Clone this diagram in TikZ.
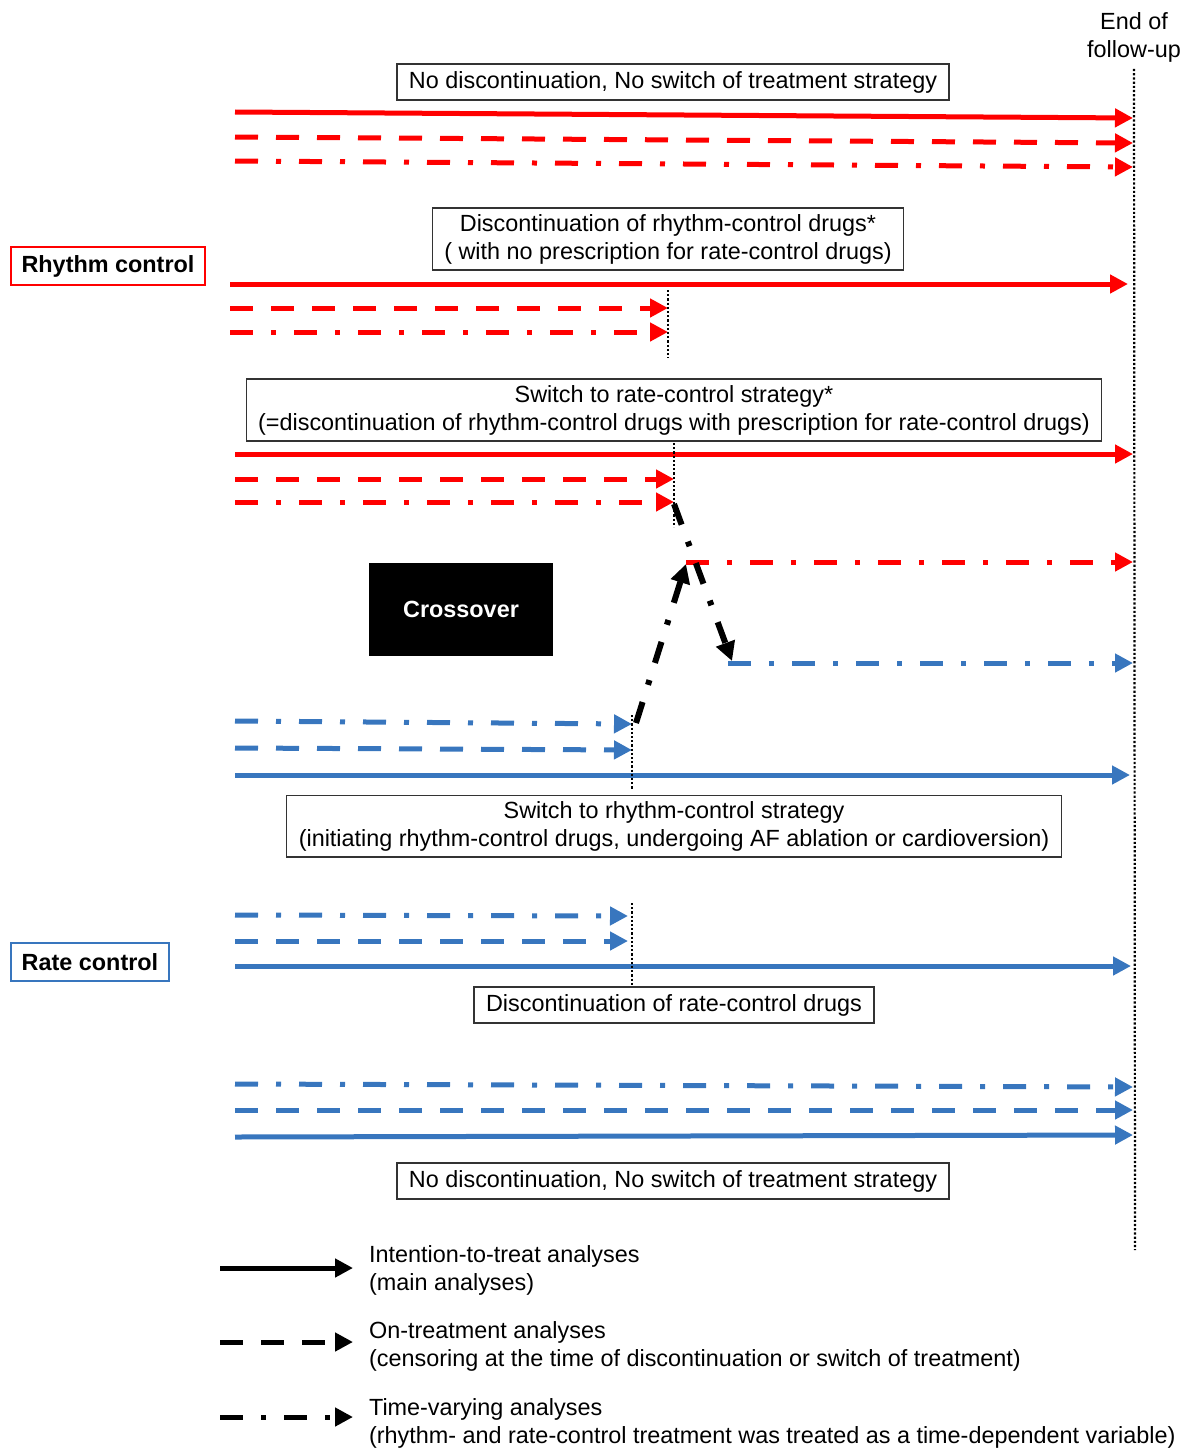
\documentclass[tikz,border=0pt]{standalone}
\usepackage{fontspec}
\setmainfont{Liberation Sans}
\usetikzlibrary{arrows.meta, positioning}
\definecolor{rhythmred}{RGB}{255,0,0}
\definecolor{rateblue}{RGB}{56,118,190}

\begin{document}
\begin{tikzpicture}[x=0.5pt, y=-0.5pt,
  every node/.style={font=\fontsize{11.7}{14}\selectfont},
  note/.style={draw=black!80, line width=0.6pt, align=center, inner xsep=6pt, inner ysep=3pt, minimum height=18pt},
  group/.style={line width=1pt, font=\fontsize{11.7}{14}\selectfont\bfseries, inner xsep=5.5pt, minimum height=19pt},
  track/.style={line width=2.5pt, -{Triangle[length=9pt,width=9pt]}},
  itt/.style={track},
  ontr/.style={track, dash pattern=on 11.5pt off 9pt},
  tvar/.style={track, dash pattern=on 11.5pt off 9pt on 2.5pt off 9pt},
  cutoff/.style={line width=1.1pt, dash pattern=on 1.1pt off 1pt},
  switchline/.style={black, line width=3pt, dash pattern=on 11pt off 9pt on 2.5pt off 9pt, -{Triangle[length=9.5pt,width=9.5pt]}},
]
\useasboundingbox (0,0) rectangle (1189,1450);

% labels and boxes
\node[align=center] (eofu) at (1134,37) {End of\\follow-up};
\node[note] (nd1) at (673,82) {No discontinuation, No switch of treatment strategy};
\node[note] (disc) at (668,239) {Discontinuation of rhythm-control drugs*\\( with no prescription for rate-control drugs)};
\node[note] (swrate) at (674,410) {Switch to rate-control strategy*\\(=discontinuation of rhythm-control drugs with prescription for rate-control drugs)};
\node[note] (swrhythm) at (674,826) {Switch to rhythm-control strategy\\(initiating rhythm-control drugs, undergoing AF ablation or cardioversion)};
\node[note] (discrate) at (674,1005) {Discontinuation of rate-control drugs};
\node[note] (nd2) at (673,1181) {No discontinuation, No switch of treatment strategy};
\node[group, draw=rhythmred] (rhythm) at (108,266) {Rhythm control};
\node[group, draw=rateblue] (rate) at (90,962) {Rate control};
\node[fill=black, text=white, font=\fontsize{11.7}{14}\selectfont\bfseries, minimum width=92pt, minimum height=46.5pt] (cross) at (461,609) {Crossover};

% end of follow-up
\draw[cutoff] (eofu.south) -- (1135,1250);

% rhythm control, no discontinuation
\draw[rhythmred, itt] (235,112) -- (1133,118);
\draw[rhythmred, ontr] (235,137) -- (1133,143);
\draw[rhythmred, tvar] (235,161) -- (1133,167);

% rhythm control, discontinuation
\draw[rhythmred, itt] (230,284) -- (1128,284);
\draw[rhythmred, ontr] (230,308) -- (668,308);
\draw[rhythmred, tvar] (230,332) -- (668,332);
\draw[cutoff] (668,290) -- (668,358);

% rhythm control, switch
\draw[rhythmred, itt] (235,454) -- (1133,454);
\draw[rhythmred, ontr] (235,479) -- (674,479);
\draw[rhythmred, tvar] (235,502) -- (674,502);
\draw[cutoff] (674,443) -- (674,527);

% crossover
\coordinate (rdend) at (674,504);
\coordinate (rtstart) at (728,663);
\coordinate (rtend) at (636,723);
\coordinate (rdstart) at (686,562);
\draw[rhythmred, tvar] (rdstart) -- (1133,562);
\draw[rateblue, tvar] (rtstart) -- (1133,663);
\draw[switchline] (rdend) -- (732,661);
\draw[switchline] (rtend) -- (686,564);

% rate control, switch
\draw[rateblue, tvar] (235,721) -- (632,724);
\draw[rateblue, ontr] (235,748) -- (632,750);
\draw[rateblue, itt] (235,775) -- (1130,775);
\draw[cutoff] (632,715) -- (632,790);

% rate control, discontinuation
\draw[rateblue, tvar] (235,915) -- (628,916);
\draw[rateblue, ontr] (235,941) -- (628,941);
\draw[rateblue, itt] (235,966) -- (1131,966);
\draw[cutoff] (632,903) -- (632,985);

% rate control, no discontinuation
\draw[rateblue, tvar] (235,1084) -- (1133,1087);
\draw[rateblue, ontr] (235,1110) -- (1133,1110);
\draw[rateblue, itt] (235,1137) -- (1133,1135);

% legend
\draw[black, itt] (220,1268) -- (353,1268);
\draw[black, ontr] (220,1342) -- (353,1342);
\draw[black, tvar] (220,1417) -- (353,1417);
\node[anchor=west, align=left] (lgitt) at (362,1270) {Intention-to-treat analyses\\(main analyses)};
\node[anchor=west, align=left] (lgontr) at (362,1346) {On-treatment analyses\\(censoring at the time of discontinuation or switch of treatment)};
\node[anchor=west, align=left] (lgtvar) at (362,1423) {Time-varying analyses\\(rhythm- and rate-control treatment was treated as a time-dependent variable)};
\end{tikzpicture}
\end{document}
